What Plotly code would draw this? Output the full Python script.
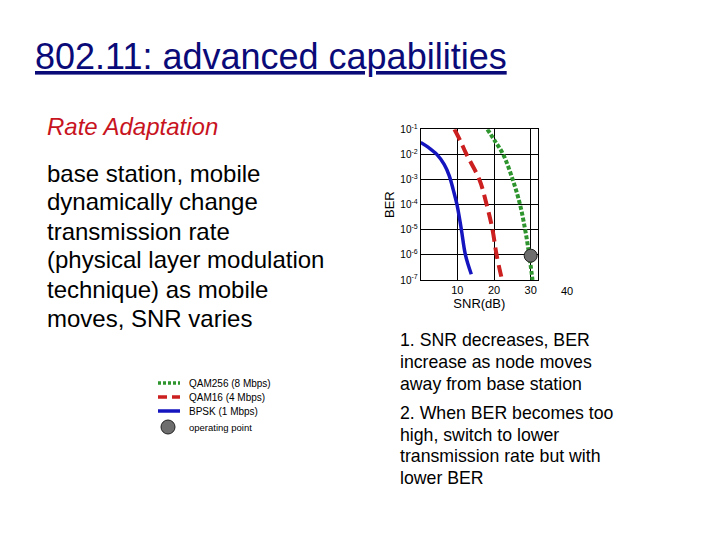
import plotly.graph_objects as go

W, H = 720, 540
FONT = "Arial, Liberation Sans, sans-serif"

# ---- data ----
bpsk_snr = [0.0, 2.1, 4.4, 6.4, 7.8, 8.9, 9.9, 11.1, 12.2, 13.8]
bpsk_ber = [3.0e-2, 1.9e-2, 1.0e-2, 4.0e-3, 1.4e-3, 3.8e-4, 1.0e-4, 1.0e-5, 1.0e-6, 1.7e-7]

qam16_snr = [9.2, 10.8, 12.5, 16.0, 18.0, 19.6, 20.7, 22.1]
qam16_ber = [1.0e-1, 3.5e-2, 1.0e-2, 1.0e-3, 1.0e-4, 1.0e-5, 1.0e-6, 1.15e-7]

qam256_snr = [18.2, 20.2, 22.5, 25.1, 27.1, 28.5, 29.6, 30.5]
qam256_ber = [1.0e-1, 3.5e-2, 1.0e-2, 1.0e-3, 1.0e-4, 1.0e-5, 1.0e-6, 1.0e-7]

op_snr = [30.0]
op_ber = [9.3e-7]

series_names = ["QAM256 (8 Mbps)", "QAM16 (4 Mbps)", "BPSK (1 Mbps)", "operating point"]
series_colors = ["#2e952e", "#cc1f1f", "#1515c0", "#6e6e6e"]

y_tickvals = [1e-1, 1e-2, 1e-3, 1e-4, 1e-5, 1e-6, 1e-7]
y_ticktext = ["10<sup>-1</sup>", "10<sup>-2</sup>", "10<sup>-3</sup>", "10<sup>-4</sup>",
              "10<sup>-5</sup>", "10<sup>-6</sup>", "10<sup>-7</sup>"]
x_tickvals = [10, 20, 30]
x_ticktext = ["10", "20", "30"]
x_extra_label = "40"

title_text = "802.11: advanced capabilities"
subtitle_text = "Rate Adaptation"
left_lines = ["base station, mobile", "dynamically change", "transmission rate",
              "(physical layer modulation", "technique) as mobile", "moves, SNR varies"]
right_block1 = ["1. SNR decreases, BER", "increase as node moves", "away from base station"]
right_block2 = ["2. When BER becomes too", "high, switch to lower",
                "transmission rate but with", "lower BER"]


def px(x):
    return x / W


def py(y):
    return 1 - y / H


fig = go.Figure()
fig.add_trace(go.Scatter(x=qam256_snr, y=qam256_ber, mode="lines", name=series_names[0],
                         line=dict(color=series_colors[0], width=4, dash="4px,2px", shape="spline")))
fig.add_trace(go.Scatter(x=qam16_snr, y=qam16_ber, mode="lines", name=series_names[1],
                         line=dict(color=series_colors[1], width=4, dash="12px,6px", shape="spline")))
fig.add_trace(go.Scatter(x=bpsk_snr, y=bpsk_ber, mode="lines", name=series_names[2],
                         line=dict(color=series_colors[2], width=3.5, shape="spline")))
fig.add_trace(go.Scatter(x=op_snr, y=op_ber, mode="markers", name=series_names[3],
                         marker=dict(color=series_colors[3], size=13, line=dict(color="#222", width=1)),
                         cliponaxis=False))

x0, x1 = 420.7, 538.0
y0, y1 = 129.3, 280.0
fig.update_layout(
    width=W, height=H, margin=dict(l=0, r=0, t=0, b=0),
    paper_bgcolor="white", plot_bgcolor="white", showlegend=False,
    font=dict(family=FONT, color="black"),
    xaxis=dict(domain=[px(x0), px(x1)], range=[0, 32], tickvals=x_tickvals, ticktext=x_ticktext,
               showgrid=True, gridcolor="black", gridwidth=1, showline=True, linecolor="black",
               mirror=True, ticks="", zeroline=False, tickfont=dict(size=11),
               title=dict(text="SNR(dB)", font=dict(size=13), standoff=0), automargin=False),
    yaxis=dict(domain=[py(y1), py(y0)], type="log", range=[-7, -1], tickvals=y_tickvals,
               ticktext=y_ticktext, showgrid=True, gridcolor="black", gridwidth=1, showline=True,
               linecolor="black", mirror=True, ticks="", zeroline=False, tickfont=dict(size=10),
               title=dict(text="BER", font=dict(size=13), standoff=2), automargin=False),
)

ann = []
ann.append(dict(text="<u>" + title_text + "</u>", x=px(33), y=py(56), xanchor="left", yanchor="middle",
                font=dict(size=36, color="#0a0a78", family=FONT)))
ann.append(dict(text="<i>" + subtitle_text + "</i>", x=px(45), y=py(126), xanchor="left",
                yanchor="middle", font=dict(size=24, color="#c8141e", family=FONT)))
for i, t in enumerate(left_lines):
    ann.append(dict(text=t, x=px(45), y=py(173 + 29 * i), xanchor="left", yanchor="middle",
                    font=dict(size=24, color="black", family=FONT)))
for i, t in enumerate(right_block1):
    ann.append(dict(text=t, x=px(398), y=py(340 + 22 * i), xanchor="left", yanchor="middle",
                    font=dict(size=17.7, color="black", family=FONT)))
for i, t in enumerate(right_block2):
    ann.append(dict(text=t, x=px(398), y=py(413 + 21.7 * i), xanchor="left", yanchor="middle",
                    font=dict(size=17.7, color="black", family=FONT)))
# extra x tick label beyond the box
ann.append(dict(text=x_extra_label, x=px(x0 + 40 * (530.7 - x0) / 30), y=py(291), xanchor="center",
                yanchor="middle", font=dict(size=11, color="black", family=FONT)))

# hand-made legend
leg_y = [383, 397, 411, 427]
shapes = []
for i in range(3):
    shapes.append(dict(type="line", xref="paper", yref="paper", x0=px(158), x1=px(180),
                       y0=py(leg_y[i]), y1=py(leg_y[i]),
                       line=dict(color=series_colors[i], width=3.5,
                                 dash=["3px,2px", "9px,5px", "solid"][i])))
shapes.append(dict(type="circle", xref="paper", yref="paper", x0=px(161), x1=px(175),
                   y0=py(434), y1=py(420), fillcolor=series_colors[3], line=dict(color="#222", width=1)))
for i, name in enumerate(series_names):
    ann.append(dict(text=name, x=px(187), y=py(leg_y[i]), xanchor="left", yanchor="middle",
                    font=dict(size=10 if i < 3 else 9.5, color="black", family=FONT)))

for a in ann:
    a.update(xref="paper", yref="paper", showarrow=False)
fig.update_layout(annotations=ann, shapes=shapes)
fig.write_html("out.html")
